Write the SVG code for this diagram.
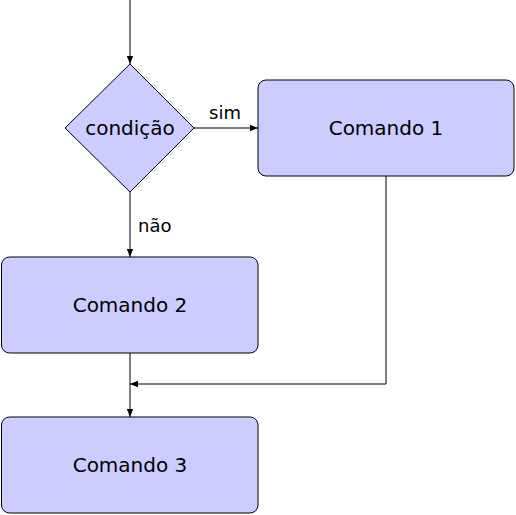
<svg xmlns="http://www.w3.org/2000/svg" width="516" height="515" viewBox="0 0 516 515">
<style>
.box{fill:#ccccff;stroke:#000;stroke-width:1}
.lbl{font-family:"DejaVu Sans",sans-serif;font-size:20px;fill:#000;text-anchor:middle;dominant-baseline:central}
.sm{font-family:"DejaVu Sans",sans-serif;font-size:18px;fill:#000}
.ln{fill:none;stroke:#000;stroke-width:1}
</style>
<defs>
<marker id="ah" markerWidth="8" markerHeight="8" refX="8" refY="4" orient="auto" markerUnits="userSpaceOnUse">
<path d="M0,0.8 L8,4 L0,7.2 Z" fill="#000"/>
</marker>
</defs>
<rect width="516" height="515" fill="#fff"/>
<g id="connectors">
<line class="ln" x1="130" y1="0" x2="130" y2="64" marker-end="url(#ah)"/>
<line class="ln" x1="194" y1="128" x2="258" y2="128" marker-end="url(#ah)"/>
<text class="sm" x="209" y="119">sim</text>
<line class="ln" x1="130" y1="192" x2="130" y2="257" marker-end="url(#ah)"/>
<text class="sm" x="138" y="232">não</text>
<line class="ln" x1="130" y1="353" x2="130" y2="417" marker-end="url(#ah)"/>
<polyline class="ln" points="386,176 386,384 130,384" marker-end="url(#ah)"/>
</g>
<g id="condicao">
<polygon class="box" points="130,64 194,128 130,192 65,128"/>
<text class="lbl" x="130" y="128">condição</text>
</g>
<g id="comando1">
<rect class="box" x="258" y="80" width="256" height="96" rx="8"/>
<text class="lbl" x="386" y="128">Comando 1</text>
</g>
<g id="comando2">
<rect class="box" x="1.5" y="257" width="256.5" height="96" rx="8"/>
<text class="lbl" x="130" y="305">Comando 2</text>
</g>
<g id="comando3">
<rect class="box" x="1.5" y="417" width="256.5" height="96" rx="8"/>
<text class="lbl" x="130" y="465">Comando 3</text>
</g>
</svg>
